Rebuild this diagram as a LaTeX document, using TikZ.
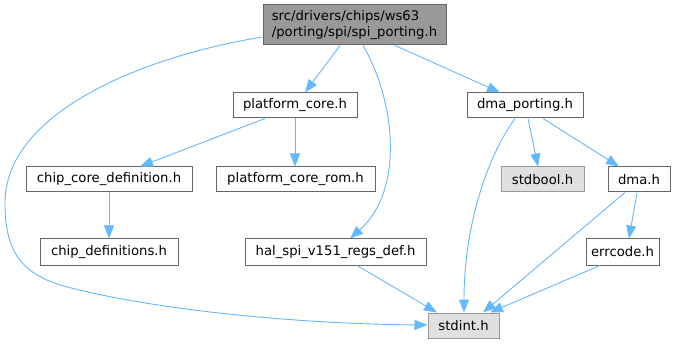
\documentclass[tikz,border=0pt]{standalone}
\usepackage{fontspec}
\setmainfont{DejaVu Sans}
\usetikzlibrary{arrows.meta}
\definecolor{edgeblue}{HTML}{63B8FF}
\definecolor{bordergray}{HTML}{666666}
\definecolor{rootfill}{HTML}{999999}
\definecolor{sysfill}{HTML}{E0E0E0}
\definecolor{sysborder}{HTML}{999999}
\begin{document}
\begin{tikzpicture}[x=1pt,y=-1pt,
  box/.style={draw=bordergray, fill=white, line width=1pt, inner sep=0pt,
    font=\fontsize{13.2}{15.5}\selectfont, text=black},
  sysbox/.style={box, draw=sysborder, fill=sysfill},
  rootbox/.style={box, fill=rootfill, align=left},
  edge/.style={draw=edgeblue, line width=0.9pt,
    -{Triangle[length=13pt,width=10pt,fill=edgeblue]}}
]
\useasboundingbox (0,0) rectangle (676,344);

\node[rootbox, minimum width=183pt, minimum height=40pt] (root) at (354.5,25)
  {src/drivers/chips/ws63\\/porting/spi/spi\_porting.h};
\node[box, minimum width=124pt, minimum height=25pt] (pc) at (295,105.5) {platform\_core.h};
\node[box, minimum width=116pt, minimum height=25pt] (dp) at (525,105.5) {dma\_porting.h};
\node[box, minimum width=166pt, minimum height=25pt] (ccd) at (109,179.5) {chip\_core\_definition.h};
\node[box, minimum width=159pt, minimum height=25pt] (pcr) at (295.5,179.5) {platform\_core\_rom.h};
\node[sysbox, minimum width=83pt, minimum height=25pt] (sb) at (542.5,179.5) {stdbool.h};
\node[box, minimum width=62pt, minimum height=25pt] (dma) at (639,179.5) {dma.h};
\node[box, minimum width=138pt, minimum height=26pt] (cd) at (109,252) {chip\_definitions.h};
\node[box, minimum width=181pt, minimum height=26pt] (hal) at (335.5,252) {hal\_spi\_v151\_regs\_def.h};
\node[box, minimum width=73pt, minimum height=26pt] (err) at (622.5,252) {errcode.h};
\node[sysbox, minimum width=71pt, minimum height=25pt] (si) at (463.5,325.5) {stdint.h};

% edges
\draw[edge] (root.south -| 340,0) -- (pc.north -| 305,0);
\draw[edge] (root.south -| 395,0) -- (dp.north -| 500,0);
\draw[edge] (root.south -| 363,0) .. controls (395,100) and (405,190) .. (hal.north -| 350,0);
\draw[edge] (root.west |- 0,37) .. controls (150,55) and (5,110) .. (5,203)
   .. controls (5,250) and (20,272) .. (60,285)
   .. controls (150,310) and (300,324) .. (si.west |- 0,325);
\draw[edge] (pc.south -| 265,0) -- (ccd.north -| 140,0);
\draw[edge] (pc.south -| 295,0) -- (pcr.north -| 295,0);
\draw[edge] (ccd.south) -- (cd.north);
\draw[edge] (hal.south -| 357,0) -- (si.north -| 437,0);
\draw[edge] (dp.south -| 515,0) .. controls (485,160) and (464,230) .. (si.north -| 464,0);
\draw[edge] (dp.south -| 528,0) -- (sb.north -| 538,0);
\draw[edge] (dp.south -| 543,0) -- (dma.north -| 619,0);
\draw[edge] (dma.south -| 625,0) -- (si.north -| 483,0);
\draw[edge] (dma.south -| 637,0) -- (err.north -| 629,0);
\draw[edge] (err.south -| 600,0) -- (si.north -| 490,0);
\end{tikzpicture}
\end{document}
